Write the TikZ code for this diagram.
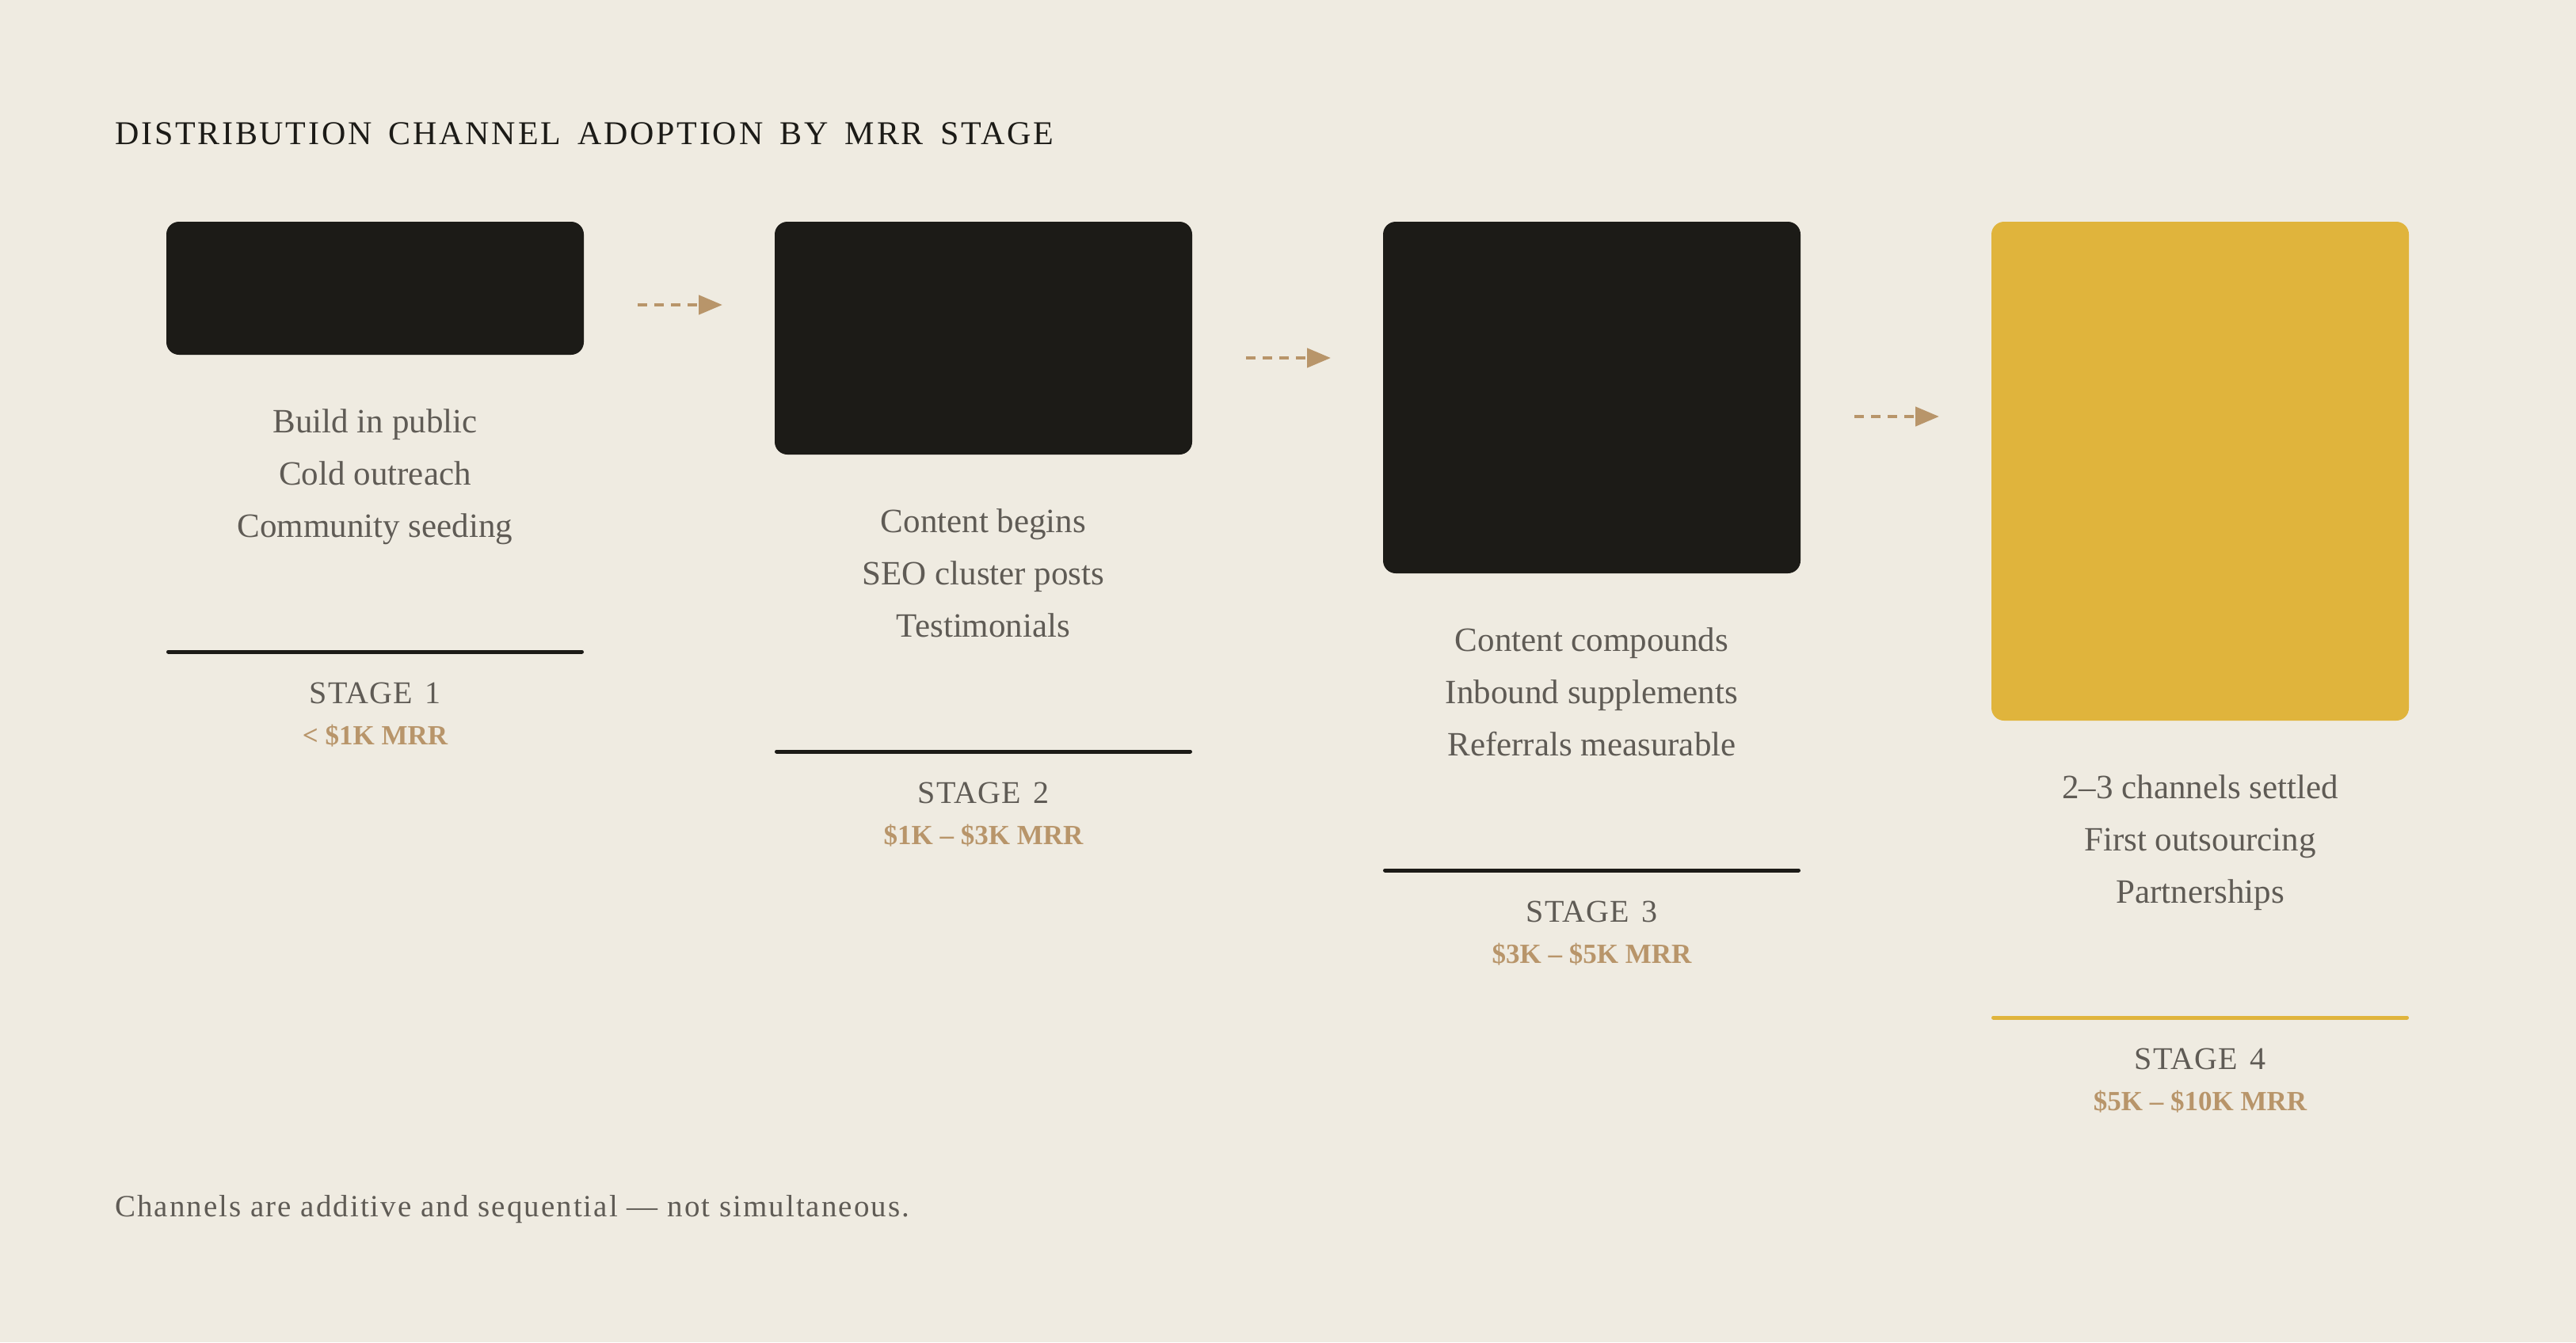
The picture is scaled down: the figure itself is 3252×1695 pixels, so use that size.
\documentclass[tikz,border=0pt]{standalone}
\usepackage{fontspec}
\setmainfont{Liberation Serif}
\newfontfamily\titlefont[LetterSpace=6.6, WordSpace=1.6]{Liberation Serif}
\newfontfamily\stagefont[LetterSpace=2.5, WordSpace=1.4]{Liberation Serif}
\newfontfamily\footfont[LetterSpace=5.2]{Liberation Serif}
\usetikzlibrary{arrows.meta}
\definecolor{bg}{HTML}{EFEBE1}
\definecolor{ink}{HTML}{1C1B17}
\definecolor{gold}{HTML}{E0B43C}
\definecolor{tan}{HTML}{B8956A}
\definecolor{greytxt}{HTML}{5F5B55}
\tikzset{
  stagebox/.style={rectangle, rounded corners=16pt, draw=none, inner sep=0pt, outer sep=0pt, minimum width=527pt},
  bodytxt/.style={anchor=base, inner sep=0pt, text=greytxt, font=\fontsize{43}{50}\selectfont},
  stagetxt/.style={anchor=base, inner sep=0pt, text=greytxt, font=\stagefont\fontsize{40}{46}\selectfont},
  mrrtxt/.style={anchor=base, inner sep=0pt, text=tan, font=\bfseries\fontsize{35}{40}\selectfont},
  stagerule/.style={line width=5pt, line cap=round},
  flowarrow/.style={draw=tan, line width=4.5pt, dash pattern=on 12pt off 9pt, -{Triangle[length=30pt, width=24pt, fill=tan]}}
}
\begin{document}
\begin{tikzpicture}[x=1pt,y=-1pt]
\fill[bg] (0,0) rectangle (3252,1695);
\useasboundingbox (0,0) rectangle (3252,1695);

\node[anchor=base west, inner sep=0pt, text=ink, font=\titlefont\fontsize{42}{48}\selectfont] (title) at (145,182) {DISTRIBUTION CHANNEL ADOPTION BY MRR STAGE};

\foreach \i/\B/\col/\la/\lb/\lc/\mrr in {
 1/448/ink/Build in public/Cold outreach/Community seeding/{< \$1K MRR},
 2/574/ink/Content begins/SEO cluster posts/Testimonials/{\$1K – \$3K MRR},
 3/724/ink/Content compounds/Inbound supplements/Referrals measurable/{\$3K – \$5K MRR},
 4/910/gold/2–3 channels settled/First outsourcing/Partnerships/{\$5K – \$10K MRR}}
{
  \pgfmathsetmacro\L{210+768*(\i-1)}
  \pgfmathsetmacro\C{\L+263.5}
  \pgfmathsetmacro\H{\B-280}
  \pgfmathsetmacro\R{\L+527}
  \node[stagebox, fill=\col, minimum height=\H pt, anchor=north west] (box\i) at (\L,280) {};
  \node[bodytxt] (la\i) at (\C,\B+98) {\la};
  \node[bodytxt] (lb\i) at (\C,\B+164) {\lb};
  \node[bodytxt] (lc\i) at (\C,\B+230) {\lc};
  \coordinate (rs\i) at (\L+2.5,\B+375);
  \coordinate (re\i) at (\R-2.5,\B+375);
  \draw[stagerule, draw=\col] (rs\i) -- (re\i);
  \node[stagetxt] (st\i) at (\C,\B+440) {STAGE \i};
  \node[mrrtxt] (mrr\i) at (\C,\B+492) {\mrr};
}

\foreach \j/\y in {1/385, 2/452, 3/526}{
  \pgfmathsetmacro\S{805+768*(\j-1)}
  \pgfmathsetmacro\E{912+768*(\j-1)}
  \coordinate (as\j) at (\S,\y);
  \coordinate (ae\j) at (\E,\y);
  \draw[flowarrow] (as\j) -- (ae\j);
}

\node[anchor=base west, inner sep=0pt, text=greytxt, font=\footfont\fontsize{39}{45}\selectfont] (foot) at (145,1536) {Channels are additive and sequential — not simultaneous.};
\end{tikzpicture}
\end{document}
